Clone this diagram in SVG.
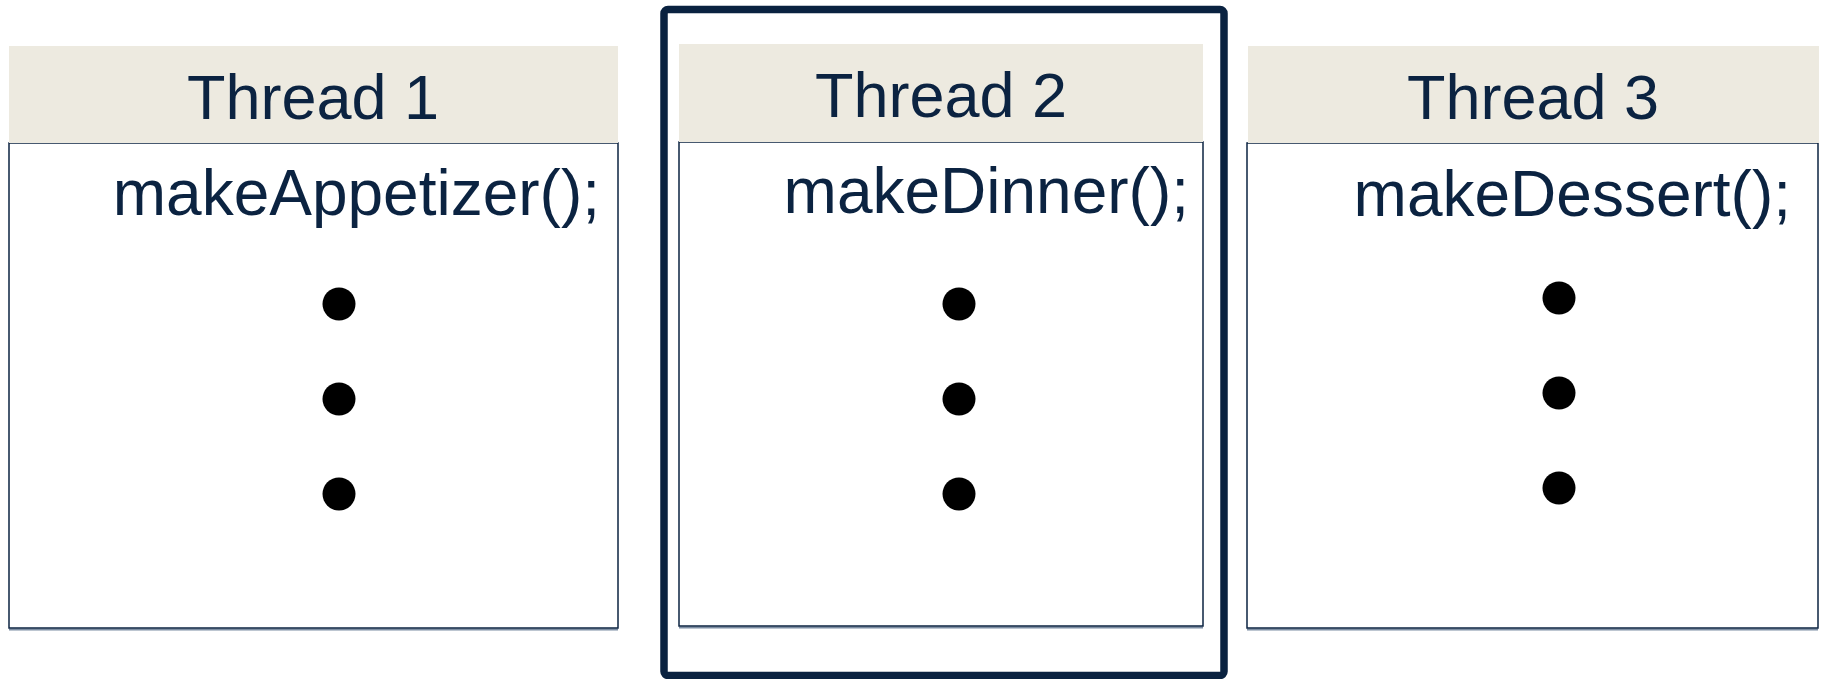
<svg xmlns="http://www.w3.org/2000/svg" width="1824" height="679" viewBox="0 0 1824 679">
  <defs>
    <style>
      .box { fill: #ffffff; stroke: #0b2341; stroke-width: 1.5; }
      .shadow { fill: none; stroke: #7d8ea3; stroke-width: 2; }
      .head { fill: #edeae0; }
      .title { font-family: "Liberation Sans", Arial, sans-serif; font-size: 63px; fill: #0b2341; text-anchor: middle; }
      .code { font-family: "Liberation Sans", Arial, sans-serif; font-size: 64px; fill: #0b2341; text-anchor: end; }
      .dot { fill: #000000; }
      .focus { fill: none; stroke: #0a2240; stroke-width: 7.5; }
    </style>
  </defs>
  <rect width="1824" height="679" fill="#ffffff"/>

  <!-- highlight frame around the second thread -->
  <g id="focus-frame">
    <rect class="focus" x="664" y="9.5" width="560" height="666" rx="4"/>
  </g>

  <g id="thread1">
    <line class="shadow" x1="9" y1="629.5" x2="618" y2="629.5"/>
    <rect class="box" x="9" y="143" width="609" height="485"/>
    <rect class="head" x="9" y="46" width="609" height="97"/>
    <text class="title" x="313" y="119">Thread 1</text>
    <text class="code" x="600" y="215">makeAppetizer();</text>
    <circle class="dot" cx="339" cy="304" r="16.5"/>
    <circle class="dot" cx="339" cy="399" r="16.5"/>
    <circle class="dot" cx="339" cy="494" r="16.5"/>
  </g>

  <g id="thread2">
    <line class="shadow" x1="679" y1="627.5" x2="1203" y2="627.5"/>
    <rect class="box" x="679" y="142" width="524" height="484"/>
    <rect class="head" x="679" y="44" width="524" height="98"/>
    <text class="title" x="941" y="117">Thread 2</text>
    <text class="code" x="1189" y="213">makeDinner();</text>
    <circle class="dot" cx="959" cy="304" r="16.5"/>
    <circle class="dot" cx="959" cy="399" r="16.5"/>
    <circle class="dot" cx="959" cy="494" r="16.5"/>
  </g>

  <g id="thread3">
    <line class="shadow" x1="1247" y1="629.5" x2="1818" y2="629.5"/>
    <rect class="box" x="1247" y="143" width="571" height="485"/>
    <rect class="head" x="1248" y="46" width="571" height="97"/>
    <text class="title" x="1533" y="119">Thread 3</text>
    <text class="code" x="1791" y="216">makeDessert();</text>
    <circle class="dot" cx="1559" cy="298" r="16.5"/>
    <circle class="dot" cx="1559" cy="393" r="16.5"/>
    <circle class="dot" cx="1559" cy="488" r="16.5"/>
  </g>

  <g id="connectors"/>
</svg>
